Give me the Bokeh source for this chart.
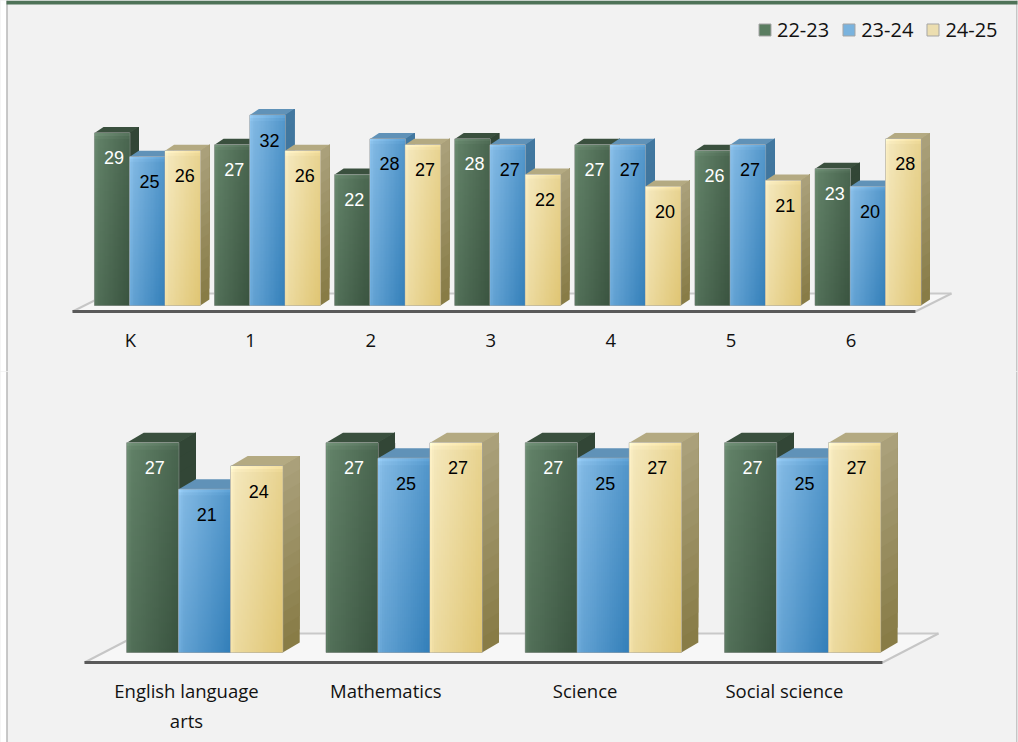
import numpy as np
from bokeh.plotting import figure
from bokeh.layouts import column
from bokeh.models import (ColumnDataSource, Range1d, FixedTicker, Legend, LegendItem, BoxAnnotation)
from bokeh.core.properties import value
from bokeh.embed import file_html
from bokeh.resources import INLINE

# ---- data ----
series_names = ["22-23", "23-24", "24-25"]
grades = ["K", "1", "2", "3", "4", "5", "6"]
grade_2223 = [29, 27, 22, 28, 27, 26, 23]
grade_2324 = [25, 32, 28, 27, 27, 27, 20]
grade_2425 = [26, 26, 27, 22, 20, 21, 28]
subjects = ["English language\narts", "Mathematics", "Science", "Social science"]
subject_2223 = [27, 27, 27, 27]
subject_2324 = [21, 25, 25, 25]
subject_2425 = [24, 27, 27, 27]

# ---- style ----
BG = "#f2f2f2"
W, PANEL_H = 1018, 371
STY = [
    dict(base="#5a7d60", tl=(100, 132, 106), br=(58, 84, 64), side_t=(50, 70, 54), side_b=(54, 76, 58),
         top=(58, 80, 62), label="white"),
    dict(base="#7ab3de", tl=(134, 188, 230), br=(52, 128, 186), side_t=(66, 120, 160), side_b=(60, 112, 152),
         top=(96, 146, 184), label="black"),
    dict(base="#ecdeb0", tl=(246, 234, 192), br=(224, 198, 116), side_t=(170, 160, 122), side_b=(136, 124, 70),
         top=(180, 170, 130), label="black"),
]


def shade(tl, br, nx=28, ny=56):
    u = np.linspace(0, 1, nx)
    v = np.linspace(0, 1, ny)
    uu, vv = np.meshgrid(u, v)
    t = 0.62 * uu + 0.38 * (1 - vv)
    edge = np.clip(1 - uu / 0.06, 0, 1) * 0.03 + np.clip((vv - 0.97) / 0.03, 0, 1) * 0.05
    img = np.zeros((ny, nx, 4), dtype=np.uint8)
    for c in range(3):
        val = tl[c] + (br[c] - tl[c]) * t
        img[:, :, c] = np.clip(val + edge * 255, 0, 255).astype(np.uint8)
    img[:, :, 3] = 255
    return img.view(np.uint32).reshape(ny, nx).copy()


def mix(a, b, t):
    return "#%02x%02x%02x" % tuple(int(a[i] + (b[i] - a[i]) * t) for i in range(3))


def frame_strips(p):
    h = PANEL_H
    for l, r, c in [(0, 6, "white"), (6, 7, "#9a9a9a"), (1016, 1017, "#9a9a9a"), (1017, W, "white")]:
        p.add_layout(BoxAnnotation(left=l, right=r, top=0, bottom=h, left_units="screen", right_units="screen",
                                   top_units="screen", bottom_units="screen", fill_color=c, fill_alpha=1,
                                   line_color=None))


def panel(cats, rows, x0, pitch, base_y, unit, top_px, bar_w, dx, dy, label_standoff, font_px,
          tip_l, tip_r, front_y, back_y, floor_dx):
    sx = lambda px: (px - x0) / pitch
    y_start = (base_y - (top_px + PANEL_H)) / unit
    y_end = (base_y - top_px) / unit
    p = figure(width=W, height=PANEL_H, x_range=Range1d(sx(0), sx(W)), y_range=Range1d(y_start, y_end),
               toolbar_location=None, output_backend="svg", min_border=0, background_fill_color=BG,
               border_fill_color=BG, outline_line_color=None)
    p.grid.visible = False
    p.yaxis.visible = False
    ax = p.xaxis[0]
    ax.fixed_location = 0
    ax.ticker = FixedTicker(ticks=list(range(len(cats))))
    ax.major_label_overrides = {i: c for i, c in enumerate(cats)}
    ax.axis_line_color = None
    ax.major_tick_line_color = None
    ax.minor_tick_line_color = None
    ax.major_label_standoff = label_standoff
    ax.major_label_text_font = "Open Sans"
    ax.major_label_text_font_size = f"{font_px}px"
    ax.major_label_text_color = "#111111"

    ux = dx / pitch
    uy = dy / unit
    w = bar_w / pitch
    start = -0.30

    # floor
    yf = (base_y - front_y) / unit
    yb = (base_y - back_y) / unit
    p.patch([sx(tip_l), sx(tip_r), sx(tip_r + floor_dx), sx(tip_l + floor_dx)], [yf, yf, yb, yb],
            fill_color="#f7f7f7", line_color=None)
    p.line([sx(tip_l + floor_dx), sx(tip_r + floor_dx)], [yb, yb], line_color="#c9c9c9", line_width=2)
    p.line([sx(tip_l), sx(tip_l + floor_dx)], [yf, yb], line_color="#c6c6c6", line_width=2)
    p.line([sx(tip_r), sx(tip_r + floor_dx)], [yf, yb], line_color="#c6c6c6", line_width=2)
    p.line([sx(tip_l), sx(tip_r)], [yf, yf], line_color="#5a5a5a", line_width=3)

    bars = []
    for s, vals in enumerate(rows):
        st = STY[s]
        xl = [g + start + s * w for g in range(len(vals))]
        # side faces, banded from bottom to top with overlap so no seams show
        n = 14
        xs, ys, cs = [], [], []
        for x, v in zip(xl, vals):
            for k in range(n):
                a = v * k / n
                b = v
                xs.append([x + w, x + w + ux, x + w + ux, x + w])
                ys.append([a, a + uy, b + uy, b])
                cs.append(mix(st["side_b"], st["side_t"], k / (n - 1)))
        p.patches(xs, ys, fill_color=cs, line_color=None)
        # top faces
        p.patches([[x, x + ux, x + w + ux, x + w] for x, v in zip(xl, vals)],
                  [[v, v + uy, v + uy, v] for v in vals],
                  fill_color=mix(st["top"], st["top"], 0), line_color=None)
        # fronts
        src = ColumnDataSource(dict(x=[x + w / 2 for x in xl], top=vals))
        r = p.vbar(x="x", top="top", bottom=0, width=w, source=src, fill_color=st["base"],
                   line_color="#a5a5a5", line_width=1)
        bars.append(r)
        img = shade(st["tl"], st["br"])
        p.image_rgba(image=[img for _ in vals], x=xl, y=[0] * len(vals), dw=[w] * len(vals), dh=vals)
    for s, vals in enumerate(rows):
        xl = [g + start + (s + 0.5) * w for g in range(len(vals))]
        p.text(x=xl, y=vals, text=[str(v) for v in vals], text_align="center", text_baseline="middle",
               x_offset=2, y_offset=25, text_color=STY[s]["label"], text_font=value("Liberation Sans"),
               text_font_size="18px")
    frame_strips(p)
    return p, bars


top, tbars = panel(grades, [grade_2223, grade_2324, grade_2425], 130, 120.1, 305, 5.95, 0, 35.3, 9, 6, 15, 18.5,
                   72, 915, 311, 293, 36)
bot, _ = panel(subjects, [subject_2223, subject_2324, subject_2425], 186, 199.3, 652, 7.77, 371, 52, 17, 10, 19, 18.5,
               84, 882, 662, 633, 56)

legend = Legend(items=[LegendItem(label=n, renderers=[r]) for n, r in zip(series_names, tbars)],
                orientation="horizontal", location=(757, 328), background_fill_alpha=0, border_line_color=None,
                glyph_width=15, glyph_height=15, spacing=12, label_standoff=5, padding=0, margin=0,
                label_text_font="Open Sans", label_text_font_size="20px", label_text_color="#111111")
top.add_layout(legend, "center")

# page frame: green band along the top
top.add_layout(BoxAnnotation(left=6, right=1017, top=PANEL_H, bottom=PANEL_H - 4, left_units="screen",
                             right_units="screen", top_units="screen", bottom_units="screen",
                             fill_color="#4f7358", fill_alpha=1, line_color=None))

page = column(top, bot, spacing=0, styles={"position": "absolute", "left": "0px", "top": "0px",
                                           "background-color": BG})
open("out.html", "w").write(file_html(page, INLINE))
